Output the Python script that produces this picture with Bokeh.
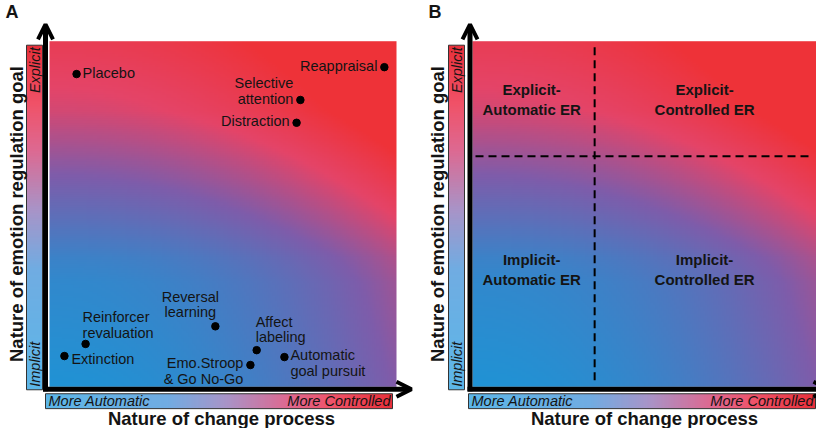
import numpy as np
from bokeh.plotting import figure
from bokeh.layouts import row
from bokeh.models import Arrow, OpenHead, Range1d
from bokeh.core.properties import value
from bokeh.embed import file_html
from bokeh.resources import INLINE

# ---------------- data ----------------
# Panel A: emotion-regulation techniques placed on the two dimensions
techniques = ["Placebo", "Reappraisal", "Selective\nattention", "Distraction",
              "Reversal\nlearning", "Reinforcer\nrevaluation", "Extinction",
              "Emo.Stroop\n& Go No-Go", "Affect\nlabeling", "Automatic\ngoal pursuit"]
# 0 = more automatic ... 100 = more controlled
change_process = [7.8, 96.5, 72.3, 71.2, 47.8, 10.4, 4.3, 57.9, 59.7, 67.7]
# 0 = implicit ... 100 = explicit
regulation_goal = [90.5, 92.5, 83.0, 76.4, 17.5, 12.4, 8.9, 6.3, 10.6, 8.6]

# Panel B: quadrants
quadrant_labels = ["Explicit-\nAutomatic ER", "Explicit-\nControlled ER",
                   "Implicit-\nAutomatic ER", "Implicit-\nControlled ER"]
quadrant_process = [17.0, 66.7, 17.0, 66.7]
quadrant_goal = [83.2, 83.2, 33.9, 33.9]
boundary_process = 35.1
boundary_goal = 66.7

x_axis_title = "Nature of change process"
y_axis_title = "Nature of emotion regulation goal"
x_end_labels = ["More Automatic", "More Controlled"]
y_end_labels = ["Implicit", "Explicit"]
panel_letters = ["A", "B"]

# ---------------- label layout (screen px offsets) ----------------
label_dx = [6, -7, -7, -7, -25, -3, 7, -7, -1, 6]
label_dy = [-1, -1, -9, -2, -22, -19, 3, 6, -21, 6]
label_align = ["left", "right", "right", "right", "center", "left", "left",
               "right", "left", "left"]

FONT = value("Liberation Sans")
INK = "#141414"
PAGE_H = 428

PLANE_STOPS = [(0.0, (32, 146, 212)), (0.45, (126, 92, 170)),
               (0.75, (228, 68, 104)), (1.0, (238, 50, 56))]
BAR_STOPS = [(0.0, (92, 182, 232)), (0.35, (112, 172, 226)), (0.52, (168, 148, 200)),
             (0.7, (222, 104, 144)), (0.83, (240, 82, 104)), (1.0, (232, 48, 58))]


def ry(y):
    # reference row -> page row (slight squeeze so everything fits)
    return 10 + (y - 13) * 426.0 / 429.0


def rgba_image(field, stops):
    pos = np.array([s[0] for s in stops], float)
    cols = np.array([s[1] for s in stops], float)
    ny, nx = field.shape
    img = np.empty((ny, nx), dtype=np.uint32)
    v = img.view(dtype=np.uint8).reshape((ny, nx, 4))
    for c in range(3):
        v[..., c] = np.interp(field, pos, cols[:, c]).round().astype(np.uint8)
    v[..., 3] = 255
    return img


def plane_image():
    n = 160
    g = np.linspace(0, 1, n)
    xx, yy = np.meshgrid(g, g)
    ty = np.interp(yy, [0, 0.3, 0.37, 0.52, 0.65, 0.8, 1.0],
                   [0, 0.08, 0.13, 0.33, 0.5, 0.7, 0.85])
    t = np.clip(0.46 * xx ** 2 + ty, 0, 1)
    return rgba_image(t, PLANE_STOPS)


def bar_image(vertical):
    g = np.linspace(0, 1, 200)
    if vertical:
        t = np.repeat(g[:, None], 2, axis=1)
    else:
        t = np.repeat(g[None, :], 2, axis=0)
    return rgba_image(t, BAR_STOPS)


def txt(p, x, y, s, size, style="normal", align="left", baseline="middle",
        angle=0.0, **kw):
    p.text(x=x, y=y, text=s, text_font=FONT, text_font_size=value(size),
           text_font_style=style, text_align=align, text_baseline=baseline,
           angle=angle, text_color=INK, **kw)


def make_panel(page_x0, width, box_l, box_r):
    box_t, box_b = ry(52), ry(400)
    kx = (box_r - box_l) / 100.0
    ky = (box_b - box_t) / 100.0
    X = lambda px: (px - box_l) / kx
    Y = lambda py: (box_b - ry(py)) / ky
    p = figure(width=width, height=PAGE_H, output_backend="svg",
               toolbar_location=None, x_axis_location=None, y_axis_location=None,
               x_range=Range1d(X(page_x0), X(page_x0 + width)),
               y_range=Range1d((box_b - (8 + PAGE_H)) / ky, (box_b - 8) / ky),
               min_border=0, outline_line_color=None,
               background_fill_color="white", border_fill_color="white")
    p.grid.visible = False
    p.image_rgba(image=[plane_image()], x=0, y=0, dw=100, dh=100)
    return p, X, Y


def decorate(p, X, Y, g, letter):
    # vertical colour bar
    l, r, t, b = g["ybar"]
    p.image_rgba(image=[bar_image(True)], x=X(l), y=Y(b), dw=X(r) - X(l), dh=Y(t) - Y(b))
    p.quad(left=X(l), right=X(r), top=Y(t), bottom=Y(b), fill_color=None,
           line_color="#333333", line_width=1)
    cx = (l + r) / 2
    txt(p, [X(cx)], [Y(t + 2)], [y_end_labels[1]], "14.5px", "italic", "right", angle=np.pi / 2)
    txt(p, [X(cx)], [Y(b - 3)], [y_end_labels[0]], "14.5px", "italic", "left", angle=np.pi / 2)
    # horizontal colour bar
    l, r, t, b = g["xbar"]
    p.image_rgba(image=[bar_image(False)], x=X(l), y=Y(b), dw=X(r) - X(l), dh=Y(t) - Y(b))
    p.quad(left=X(l), right=X(r), top=Y(t), bottom=Y(b), fill_color=None,
           line_color="#333333", line_width=1)
    cy = (t + b) / 2
    txt(p, [X(l + 3)], [Y(cy)], [x_end_labels[0]], "14.5px", "italic", "left")
    txt(p, [X(r - 2)], [Y(cy)], [x_end_labels[1]], "14.5px", "italic", "right")
    # axis arrows
    ax, ay0, ay1 = g["yarrow"]
    p.add_layout(Arrow(end=OpenHead(size=15, line_width=4, line_color="black"),
                       x_start=X(ax), y_start=Y(ay0), x_end=X(ax), y_end=Y(ay1),
                       line_width=5, line_color="black"))
    ay, ax0, ax1 = g["xarrow"]
    p.add_layout(Arrow(end=OpenHead(size=15, line_width=4, line_color="black"),
                       x_start=X(ax0), y_start=Y(ay), x_end=X(ax1), y_end=Y(ay),
                       line_width=5, line_color="black"))
    # titles
    tx, ty = g["xtitle"]
    txt(p, [X(tx)], [Y(ty)], [x_axis_title], "18.5px", "bold", "center")
    tx, ty = g["ytitle"]
    txt(p, [X(tx)], [Y(ty)], [y_axis_title], "18.5px", "bold", "center", angle=np.pi / 2)
    lx, ly = g["letter"]
    txt(p, [X(lx)], [Y(ly)], [letter], "18px", "bold", "left")


geo_a = dict(ybar=(34, 50, 56, 403), xbar=(53, 400, 407, 422),
             yarrow=(53, 404.5, 35), xarrow=(402.5, 50.5, 419),
             xtitle=(229, 432), ytitle=(24, 226), letter=(13, 23))
geo_b = dict(ybar=(456, 472, 56, 403), xbar=(476, 823, 407, 422),
             yarrow=(477.5, 404.5, 35), xarrow=(402.5, 475, 836),
             xtitle=(652, 432), ytitle=(445, 226), letter=(436, 23))

# ---------------- panel A ----------------
pa, XA, YA = make_panel(8, 416, 57, 404)
decorate(pa, XA, YA, geo_a, panel_letters[0])
pa.scatter(change_process, regulation_goal, size=7.5, color="black")
for al in ["left", "right", "center"]:
    idx = [i for i, a in enumerate(label_align) if a == al]
    pa.text(x=[change_process[i] for i in idx], y=[regulation_goal[i] for i in idx],
            text=[techniques[i] for i in idx],
            x_offset=[label_dx[i] for i in idx], y_offset=[label_dy[i] for i in idx],
            text_font=FONT, text_font_size=value("14.5px"), text_align=al,
            text_baseline="middle", text_line_height=0.95, text_color=INK)

# ---------------- panel B ----------------
pb, XB, YB = make_panel(424, 400, 480, 828)
decorate(pb, XB, YB, geo_b, panel_letters[1])
pb.line([boundary_process, boundary_process], [YB(58), YB(395)], line_color="black",
        line_width=2, line_dash="8 5")
pb.line([XB(483), XB(820)], [boundary_goal, boundary_goal], line_color="black",
        line_width=2, line_dash="8 5")
pb.text(x=quadrant_process, y=quadrant_goal, text=quadrant_labels, text_font=FONT,
        text_font_size=value("15px"), text_font_style="bold", text_align="center",
        text_baseline="middle", text_line_height=1.17, text_color=INK)

layout = row(pa, pb, spacing=0)
open("out.html", "w").write(file_html(layout, INLINE))
